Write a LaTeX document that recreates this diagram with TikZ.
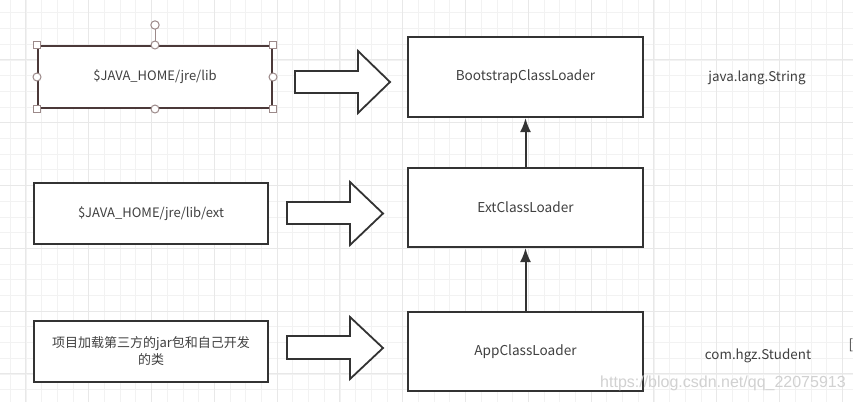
\documentclass[tikz,border=0pt]{standalone}
\usepackage{fontspec}
\setmainfont{Noto Sans CJK SC}
\newfontfamily\wmfont{Liberation Sans}
\usetikzlibrary{arrows.meta,calc}
\definecolor{selborder}{HTML}{4B3939}
\definecolor{handlecol}{HTML}{9C8A8A}
\begin{document}
\begin{tikzpicture}[x=1pt,y=-1pt,
  minorgrid/.style={draw=black!5,line width=0.8pt},
  majorgrid/.style={draw=black!9,line width=0.9pt},
  leftbox/.style={draw=black!80,line width=2pt,fill=white,minimum width=234pt,minimum height=61pt,inner sep=0pt,text=black!75,font=\fontsize{13}{17}\selectfont,align=center},
  rightbox/.style={draw=black!80,line width=2pt,fill=white,minimum width=235pt,minimum height=80pt,inner sep=0pt,text=black!75,font=\fontsize{13.6}{17}\selectfont},
  blockarrow/.style={draw=black!80,line width=1.8pt,fill=white,line join=miter},
  uparrow/.style={draw=black!80,line width=2pt,-{Latex[length=14pt,width=11pt]}},
  plaintext/.style={text=black!75,font=\fontsize{13.4}{17}\selectfont,inner sep=0pt},
  handle/.style={draw=handlecol,line width=1pt,fill=white},
]
\useasboundingbox (0,0) rectangle (853,402);
\fill[white] (0,0) rectangle (853,402);
% grid
\foreach \k in {0,...,54} {
  \pgfmathsetmacro{\gx}{10.2+15.7*\k}
  \draw[minorgrid] (\gx,0) -- (\gx,402);
}
\foreach \k in {0,...,25} {
  \pgfmathsetmacro{\gy}{12.8+15.7*\k}
  \draw[minorgrid] (0,\gy) -- (853,\gy);
}
\foreach \k in {0,...,13} {
  \pgfmathsetmacro{\gx}{25.9+62.8*\k}
  \draw[majorgrid] (\gx,0) -- (\gx,402);
}
\foreach \k in {0,...,6} {
  \pgfmathsetmacro{\gy}{-2.9+62.8*\k}
  \draw[majorgrid] (0,\gy) -- (853,\gy);
}
% left boxes
\node[leftbox,draw=selborder,minimum height=62pt] (lib) at (155,77) {\$JAVA\_HOME/jre/lib};
\node[leftbox] (ext) at (151,213.5) {\$JAVA\_HOME/jre/lib/ext};
\node[leftbox] (proj) at (151,351.5) {项目加载第三方的jar包和自己开发\\的类};
% selection handles on lib
\coordinate (rot) at (155,25);
\draw[handle] (rot) ++(0,4) -- (lib.north);
\draw[handle] (rot) circle (4.2);
\foreach \a in {north,south,east,west} {\draw[handle] (lib.\a) circle (4);}
\foreach \a in {north west,north east,south west,south east} {\draw[handle] ($(lib.\a)+(-3.3,-3.3)$) rectangle ++(6.6,6.6);}
% right boxes
\node[rightbox] (boot) at (525.5,77) {BootstrapClassLoader};
\node[rightbox,minimum height=79pt] (extcl) at (525.5,207.5) {ExtClassLoader};
\node[rightbox,minimum height=79pt] (app) at (525.5,351.5) {AppClassLoader};
% vertical arrows
\draw[uparrow] (extcl.north) -- (boot.south);
\draw[uparrow] (app.north) -- (extcl.south);
% block arrows
\draw[blockarrow] (295,71) -- (358,71) -- (358,51) -- (390,82) -- (358,113) -- (358,93) -- (295,93) -- cycle;
\draw[blockarrow] (287,202) -- (350,202) -- (350,182) -- (383,213.5) -- (350,245) -- (350,224) -- (287,224) -- cycle;
\draw[blockarrow] (287,336) -- (350,336) -- (350,317) -- (383,348) -- (350,379) -- (350,359) -- (287,359) -- cycle;
% side texts
\node[plaintext] (str) at (757,78) {java.lang.String};
\node[plaintext] (stu) at (758,356) {com.hgz.Student};
\node[plaintext,anchor=west] (brk) at (848.5,345) {[};
% watermark
\node[inner sep=0pt,anchor=west,text=black!18,font=\wmfont\fontsize{16}{18}\selectfont] (wm) at (600,383) {https://blog.csdn.net/qq\_22075913};
\end{tikzpicture}
\end{document}
